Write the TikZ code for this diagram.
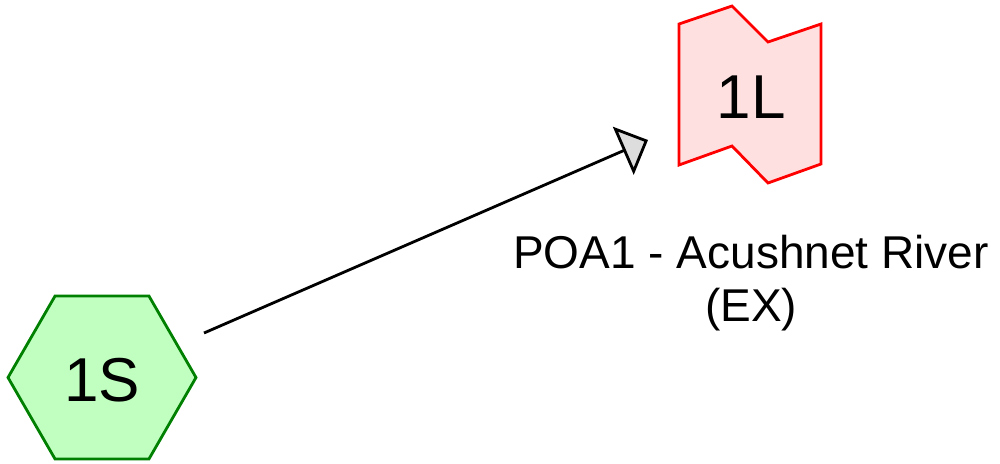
\documentclass[tikz,border=0pt]{standalone}
\usepackage{fontspec}
\setmainfont{Liberation Sans}
\usetikzlibrary{shapes.geometric,arrows.meta}
\definecolor{hexfill}{HTML}{C0FFC0}
\definecolor{hexline}{HTML}{008000}
\definecolor{lfill}{HTML}{FFE0E0}
\definecolor{lline}{HTML}{FF0000}
\definecolor{tipfill}{HTML}{DDDDDD}
\tikzset{
  hexnode/.style={regular polygon, regular polygon sides=6, minimum size=188pt, inner sep=0pt,
    draw=hexline, fill=hexfill, line width=2.8pt, font=\fontsize{62}{70}\selectfont},
  lshape/.style={draw=lline, fill=lfill, line width=2.8pt, line join=miter},
  bigtext/.style={inner sep=0pt, font=\fontsize{62}{70}\selectfont},
  labeltext/.style={inner sep=0pt, align=center, font=\fontsize{46}{53}\selectfont},
  flow/.style={draw=black, line width=2.8pt, -{Triangle[width=52pt,length=27pt,fill=tipfill]}},
}
\begin{document}
\begin{tikzpicture}[x=1pt,y=-1pt]
\useasboundingbox (0,0) rectangle (1000,463);
\node[hexnode] (S) at (102,377.5) {};
\node[bigtext] (Stext) at (102,380) {1S};
\draw[lshape] (679,24) -- (732,6) -- (768,42) -- (821,24) -- (821,164) -- (768,183) -- (732,146) -- (679,165) -- cycle;
\node[bigtext] (L) at (751,97) {1L};
\node[labeltext] (lab) at (751,283) {POA1 - Acushnet River\\(EX)};
\coordinate (a) at (204,333);
\coordinate (b) at (648,140);
\draw[flow] (a) -- (b);
\end{tikzpicture}
\end{document}
